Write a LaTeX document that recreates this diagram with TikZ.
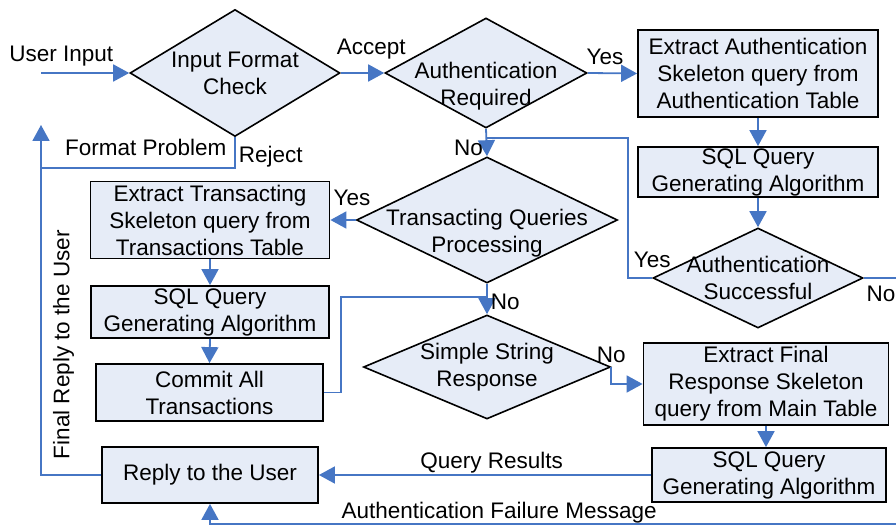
\documentclass[tikz,border=0pt]{standalone}
\usepackage{fontspec}
\setmainfont{Liberation Sans}
\usepackage{tikz}
\usetikzlibrary{arrows.meta,shapes.geometric}
\definecolor{boxfill}{RGB}{230,236,247}
\definecolor{flowblue}{RGB}{70,118,196}
\tikzstyle{decision}=[diamond,draw=black,line width=1.6pt,fill=boxfill,inner sep=0pt]
\tikzstyle{decisiontext}=[align=center,inner sep=0pt]
\tikzstyle{block}=[rectangle,draw=black,line width=1.8pt,fill=boxfill,align=center,inner sep=1pt]
\tikzstyle{link}=[draw=flowblue,line width=1.8pt]
\tikzstyle{edge}=[link,-{Triangle[length=16pt,width=17pt]}]
\tikzstyle{edgetext}=[text=black,inner sep=3pt]

\begin{document}
\begin{tikzpicture}[x=1pt,y=-1pt,font=\fontsize{22.5}{27}\selectfont]
    \useasboundingbox (0,0) rectangle (896,526);
    	% draw the decisions
	    \foreach \pos/\name/\w/\h in {{(235,73)/d1/210/127}, {(486,73)/d2/202/110},
    	                        {(758,278)/d3/210/100}, {(487,220)/d4/261/126},
    	                        {(487,367)/d5/247/104}}
        \node[decision,minimum width=\w pt,minimum height=\h pt] (\name) at \pos {};
	    \foreach \name/\dy/\txt in {d1/0/{Input Format\\Check}, d2/13/{Authentication\\Required},
    	                        d3/0/{Authentication\\Successful}, d4/13/{Transacting Queries\\Processing},
    	                        d5/0/{Simple String\\Response}}
        \node[decisiontext,yshift=-\dy pt] (\name-text) at (\name) {\txt};
    	% draw the blocks
	    \foreach \pos/\name/\w/\h/\txt in {{(758,73.5)/b1/240/87/{Extract Authentication\\Skeleton query from\\Authentication Table}},
    	                        {(758,172)/b2/240/50/{SQL Query\\Generating Algorithm}},
    	                        {(210,220)/b3/239/77/{Extract Transacting\\Skeleton query from\\Transactions Table}},
    	                        {(210,312)/b4/238/52/{SQL Query\\Generating Algorithm}},
    	                        {(209.5,392.5)/b5/227/57/{Commit All\\Transactions}},
    	                        {(766,384)/b6/245/82/{Extract Final\\Response Skeleton\\query from Main Table}},
    	                        {(769,475)/b7/234/54/{SQL Query\\Generating Algorithm}},
    	                        {(210,475)/r/216/56/{Reply to the User}}}
        \node[block,minimum width=\w pt,minimum height=\h pt] (\name) at \pos {\txt};
    	% free ends and joints
    	\coordinate (in) at (41,73);
    	\coordinate (fr) at (41,125);
    	\coordinate (j1) at (487,138);
    	\coordinate (j2) at (487,297);
    	\coordinate (j4) at (41,168);
    	\coordinate (c1) at (912,278);
    	\coordinate (af) at (912,524);
    	% connect with edges
    	\path[edge] (in) -- node[edgetext,above=3pt,pos=0.23] {User Input} (d1.west);
    	\path[edge] (d1.east) -- node[edgetext,above=10pt,pos=0.7] {Accept} (d2.west);
    	\path[edge] (d2.east) -- node[edgetext,above=5pt,pos=0.35] {Yes} (b1.west);
    	\path[edge] (b1.south) -- (b2.north);
    	\path[edge] (b2.south) -- (d3.north);
    	\path[link] (d3.west) node[edgetext,above=6pt] {Yes} -- ++(-24,0) |- (j1);
    	\path[edge] (d2.south) -- node[edgetext,left,pos=0.7] {No} (d4.north);
    	\path[edge] (d4.west) -- node[edgetext,above=10pt,pos=0.15] {Yes} (b3.east);
    	\path[edge] (b3.south) -- (b4.north);
    	\path[edge] (b4.south) -- (b5.north);
    	\path[link] (b5.east) -- ++(17,0) |- (j2);
    	\path[edge] (d4.south) -- node[edgetext,right,pos=0.6] {No} (d5.north);
    	\path[edge] (d5.east) node[edgetext,above] {No} |- (b6.west);
    	\path[edge] (b6.south) -- (b6.south |- b7.north);
    	\path[edge] (b7.west) -- node[edgetext,above,pos=0.48,inner sep=1pt] {Query Results} (r.east);
    	\path[edge] (d3.east) node[edgetext,anchor=north west,yshift=-4pt,inner xsep=2pt] {No} -- (c1) -- (af)
    	    -| node[edgetext,above,pos=0.294,inner sep=0pt] {Authentication Failure Message} (r.south);
    	\path[edge] (r.west) -| node[edgetext,rotate=90,anchor=north,pos=0.686,inner sep=0pt,outer sep=12pt] {Final Reply to the User} (fr);
    	\path[link] (d1.south) |- node[edgetext,right,pos=0.32] {Reject}
    	    node[edgetext,above=8pt,pos=0.73] {Format Problem} (j4);
	\end{tikzpicture}
\end{document}
